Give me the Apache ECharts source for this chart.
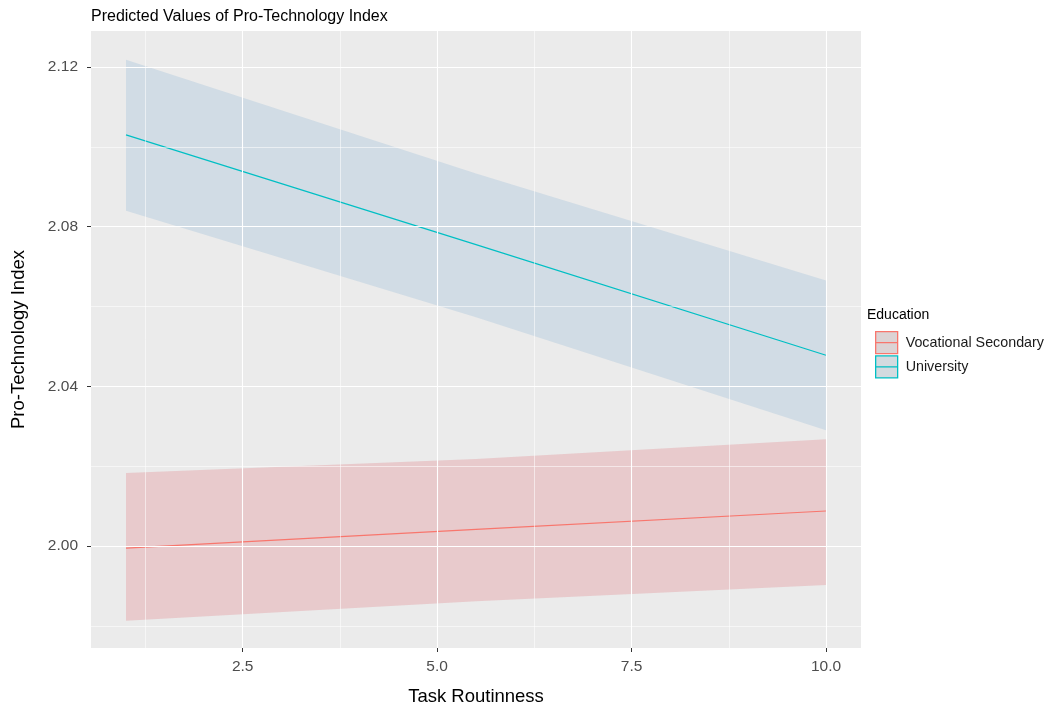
<!DOCTYPE html>
<html>
<head>
<meta charset="utf-8">
<script src="https://cdn.jsdelivr.net/npm/echarts@6/dist/echarts.min.js"></script>
<style>
html,body{margin:0;padding:0;background:#ffffff;}
#chart{width:1051px;height:711px;}
</style>
</head>
<body>
<div id="chart"></div>
<script>
// ---- data ----
const taskRoutinness = [1, 5.5, 10];
const vocFit  = [1.9995, 2.0042, 2.0088];
const vocLow  = [1.9813, 1.9862, 1.9903];
const vocHigh = [2.0183, 2.0218, 2.0268];
const uniFit  = [2.1030, 2.0755, 2.0478];
const uniLow  = [2.0840, 2.0573, 2.0290];
const uniHigh = [2.1218, 2.0933, 2.0665];
const groups = ['Vocational Secondary', 'University'];
const xTicks = [2.5, 5.0, 7.5, 10.0];
const xMinor = [1.25, 3.75, 6.25, 8.75];
const yTicks = [2.00, 2.04, 2.08, 2.12];
const yMinor = [1.98, 2.02, 2.06, 2.10];

const FONT = '"Liberation Sans", Arial, sans-serif';
const lineColors = ['#F8766D', '#00BFC4'];
const ribbonColors = ['rgba(225,125,132,0.30)', 'rgba(148,185,215,0.30)'];
const keyFill = ['#DCD3D4', '#D3DADF'];

const chart = echarts.init(document.getElementById('chart'), null, {renderer: 'canvas'});

function pairs(xs, ys) { return xs.map((x, i) => [x, ys[i]]); }

const gridLines = [].concat(
  xTicks.map(v => ({xAxis: v, lineStyle: {width: 1.1}})),
  xMinor.map(v => ({xAxis: v, lineStyle: {width: 0.55}})),
  yTicks.map(v => ({yAxis: v, lineStyle: {width: 1.1}})),
  yMinor.map(v => ({yAxis: v, lineStyle: {width: 0.55}}))
);

function ribbon(name, lo, hi, color) {
  return {
    name: name + ' CI', type: 'custom', silent: true, z: 3,
    encode: {x: 0, y: [1, 2]},
    data: taskRoutinness.map((x, i) => [x, lo[i], hi[i]]),
    renderItem: function (params, api) {
      if (params.dataIndexInside !== 0) return null;
      const n = params.dataInsideLength;
      const upper = [], lower = [];
      for (let i = 0; i < n; i++) {
        const x = api.value(0, i);
        lower.push(api.coord([x, api.value(1, i)]));
        upper.push(api.coord([x, api.value(2, i)]));
      }
      const pts = upper.concat(lower.reverse());
      return {
        type: 'polygon',
        shape: {points: pts},
        style: {fill: color, stroke: null}
      };
    }
  };
}

const option = {
  animation: false,
  backgroundColor: '#ffffff',
  textStyle: {fontFamily: FONT},
  title: [
    {text: 'Predicted Values of Pro-Technology Index', left: 86, top: 4,
     textStyle: {fontFamily: FONT, fontSize: 16, fontWeight: 'normal', color: '#000000'}},
    {text: 'Education', left: 862, top: 303,
     textStyle: {fontFamily: FONT, fontSize: 14, fontWeight: 'normal', color: '#000000'}}
  ],
  grid: {left: 91, top: 31, right: 190, bottom: 60, show: true,
         backgroundColor: '#EBEBEB', borderWidth: 0, containLabel: false},
  legend: {
    orient: 'vertical', left: 875, top: 331, padding: 0, itemWidth: 22, itemHeight: 22, itemGap: 1,
    selectedMode: false,
    textStyle: {fontFamily: FONT, fontSize: 14.3, color: '#1A1A1A', padding: [0, 0, 0, 3]},
    data: groups.map((g, i) => ({
      name: g,
      icon: 'path://M0,0H22V22H0Z M0,11H22',
      itemStyle: {color: keyFill[i], borderColor: lineColors[i], borderWidth: 1.3}
    }))
  },
  xAxis: {
    type: 'value', min: 0.55, max: 10.45,
    name: 'Task Routinness', nameLocation: 'middle', nameGap: 39,
    nameTextStyle: {fontFamily: FONT, fontSize: 18.5, color: '#000000'},
    axisLine: {show: false},
    axisTick: {show: true, length: 4, customValues: xTicks, lineStyle: {color: '#333333', width: 1}},
    axisLabel: {customValues: xTicks, margin: 11, fontFamily: FONT, fontSize: 15.5, color: '#4D4D4D',
                formatter: v => v.toFixed(1)},
    splitLine: {show: false}
  },
  yAxis: {
    type: 'value', min: 1.9745, max: 2.129,
    name: 'Pro-Technology Index', nameLocation: 'middle', nameGap: 63, nameRotate: 90,
    nameTextStyle: {fontFamily: FONT, fontSize: 18.5, color: '#000000'},
    axisLine: {show: false},
    axisTick: {show: true, length: 4, customValues: yTicks, lineStyle: {color: '#333333', width: 1}},
    axisLabel: {customValues: yTicks, margin: 13, fontFamily: FONT, fontSize: 15.5, color: '#4D4D4D',
                formatter: v => v.toFixed(2)},
    splitLine: {show: false}
  },
  series: [
    {
      name: 'grid', type: 'line', data: [], silent: true, z: 1,
      markLine: {
        silent: true, symbol: ['none', 'none'], label: {show: false},
        lineStyle: {color: '#FFFFFF', type: 'solid', width: 1.1},
        emphasis: {disabled: true},
        data: gridLines
      }
    },
    ribbon(groups[0], vocLow, vocHigh, ribbonColors[0]),
    ribbon(groups[1], uniLow, uniHigh, ribbonColors[1]),
    {
      name: groups[0], type: 'line', data: pairs(taskRoutinness, vocFit), symbol: 'none', z: 4,
      lineStyle: {color: lineColors[0], width: 1.2}, itemStyle: {color: lineColors[0]}
    },
    {
      name: groups[1], type: 'line', data: pairs(taskRoutinness, uniFit), symbol: 'none', z: 4,
      lineStyle: {color: lineColors[1], width: 1.2}, itemStyle: {color: lineColors[1]}
    }
  ]
};
chart.setOption(option);
</script>
</body>
</html>
